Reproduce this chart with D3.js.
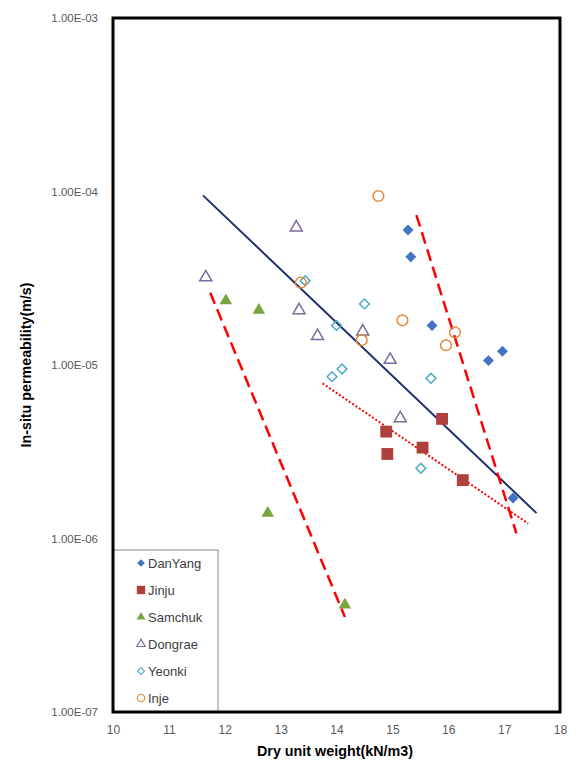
<!DOCTYPE html>
<html><head><meta charset="utf-8">
<script src="https://cdn.jsdelivr.net/npm/d3@7"></script>
<style>body{margin:0;background:#fff}</style>
</head><body>
<svg id="c" width="584" height="772"></svg>
<script>
const xTicks = [10,11,12,13,14,15,16,17,18];
const yTicks = [1e-7,1e-6,1e-5,1e-4,1e-3];
const yTickLabels = ["1.00E-07","1.00E-06","1.00E-05","1.00E-04","1.00E-03"];

const danyangX = [15.28,15.33,15.71,16.72,16.97,17.16];
const danyangY = [6.0e-5,4.2e-5,1.69e-5,1.06e-5,1.2e-5,1.71e-6];
const jinjuX = [14.89,14.91,15.54,15.89,16.26];
const jinjuY = [4.13e-6,3.07e-6,3.34e-6,4.89e-6,2.17e-6];
const samchukX = [12.02,12.61,12.77,14.15];
const samchukY = [2.35e-5,2.07e-5,1.40e-6,4.14e-7];
const dongraeX = [11.66,13.28,13.33,13.66,14.47,14.96,15.14];
const dongraeY = [3.2e-5,6.2e-5,2.07e-5,1.47e-5,1.56e-5,1.07e-5,4.93e-6];
const yeonkiX = [13.44,14.50,14.00,14.10,13.92,15.69,15.51];
const yeonkiY = [3.06e-5,2.25e-5,1.69e-5,9.48e-6,8.57e-6,8.38e-6,2.54e-6];
const injeX = [14.75,15.18,16.12,15.96,14.45,13.36];
const injeY = [9.42e-5,1.81e-5,1.54e-5,1.30e-5,1.39e-5,2.98e-5];

// trend lines: [x0,y0,x1,y1]
const trendAll = [11.61,9.5e-5,17.58,1.40e-6];
const trendSamchuk = [11.74,2.61e-5,14.15,3.53e-7];
const trendDanyang = [15.43,7.32e-5,17.22,1.07e-6];
const trendJinju = [13.75,7.84e-6,17.43,1.22e-6];

const svg = d3.select("#c");
const L=113,R=560,T=18,B=712;
const x = d3.scaleLinear().domain([10,18]).range([L,R]);
const y = d3.scaleLog().domain([1e-7,1e-3]).range([B,T]);
const FONT = "Liberation Sans, Arial, sans-serif";

const series = [
  {name:"DanYang", xs:danyangX, ys:danyangY, sym:d3.symbolSquare, rot:45, size:60, fill:"#4472C4", stroke:"none"},
  {name:"Jinju", xs:jinjuX, ys:jinjuY, sym:d3.symbolSquare, rot:0, size:140, fill:"#B0403E", stroke:"none"},
  {name:"Samchuk", xs:samchukX, ys:samchukY, sym:d3.symbolTriangle, rot:0, size:68, fill:"#77A540", stroke:"none"},
  {name:"Dongrae", xs:dongraeX, ys:dongraeY, sym:d3.symbolTriangle, rot:0, size:62, fill:"none", stroke:"#7B6A9E"},
  {name:"Yeonki", xs:yeonkiX, ys:yeonkiY, sym:d3.symbolSquare, rot:45, size:48, fill:"none", stroke:"#4BACC6"},
  {name:"Inje", xs:injeX, ys:injeY, sym:d3.symbolCircle, rot:0, size:90, fill:"none", stroke:"#E0893A"}
];

// trend lines
const lineGen = d3.line().x(d=>x(d[0])).y(d=>y(d[1]));
const trends = [
  {t:trendAll, color:"#1F3070", dash:null, w:2},
  {t:trendSamchuk, color:"#FF0000", dash:"12,6", w:2.5},
  {t:trendDanyang, color:"#FF0000", dash:"12,6", w:2.5},
  {t:trendJinju, color:"#FF0000", dash:"2,2", w:2}
];
trends.forEach(tr=>{
  svg.append("path").attr("d", lineGen([[tr.t[0],tr.t[1]],[tr.t[2],tr.t[3]]]))
    .attr("stroke",tr.color).attr("stroke-width",tr.w).attr("fill","none")
    .attr("stroke-dasharray",tr.dash);
});

// points
series.forEach(s=>{
  const sym = d3.symbol().type(s.sym).size(s.size);
  svg.append("g").selectAll("path").data(s.xs.map((v,i)=>[v,s.ys[i]])).join("path")
    .attr("d", sym)
    .attr("transform", d=>`translate(${x(d[0])},${y(d[1])}) rotate(${s.rot})`)
    .attr("fill", s.fill).attr("stroke", s.stroke).attr("stroke-width", s.stroke==="none"?0:1.5);
});

// legend
const lg = svg.append("g");
lg.append("rect").attr("x",L).attr("y",550).attr("width",105).attr("height",B-550)
  .attr("fill","#fff").attr("stroke","#888").attr("stroke-width",1);
series.forEach((s,i)=>{
  const yy = 563 + i*27;
  const sym = d3.symbol().type(s.sym).size(s.size*0.5);
  lg.append("path").attr("d",sym).attr("transform",`translate(141,${yy}) rotate(${s.rot})`)
    .attr("fill",s.fill).attr("stroke",s.stroke).attr("stroke-width",s.stroke==="none"?0:1.1);
  lg.append("text").attr("x",148).attr("y",yy).attr("dy","0.35em")
    .attr("font-family",FONT).attr("font-size",13)
    .attr("fill","#404040").text(s.name);
});

// frame
svg.append("rect").attr("x",L).attr("y",T).attr("width",R-L).attr("height",B-T)
  .attr("fill","none").attr("stroke","#000").attr("stroke-width",3);

// axes labels
const xa = d3.axisBottom(x).tickValues(xTicks).tickSize(0).tickPadding(13).tickFormat(d3.format("d"));
const gx = svg.append("g").attr("transform",`translate(0,${B})`).call(xa);
gx.select(".domain").remove();
gx.selectAll("text").attr("font-family",FONT).attr("font-size",12).attr("fill","#595959");

const ya = d3.axisLeft(y).tickValues(yTicks).tickSize(0).tickPadding(15).tickFormat((d,i)=>yTickLabels[i]);
const gy = svg.append("g").attr("transform",`translate(${L},0)`).call(ya);
gy.select(".domain").remove();
gy.selectAll("text").attr("font-family",FONT).attr("font-size",11.5).attr("fill","#595959");

svg.append("text").attr("x",335).attr("y",756).attr("text-anchor","middle")
  .attr("font-family",FONT).attr("font-weight","bold").attr("font-size",14)
  .attr("textLength",156).attr("lengthAdjust","spacingAndGlyphs")
  .attr("fill","#000").text("Dry unit weight(kN/m3)");
svg.append("text").attr("transform","translate(31,365) rotate(-90)").attr("text-anchor","middle")
  .attr("font-family",FONT).attr("font-weight","bold").attr("font-size",14)
  .attr("textLength",165).attr("lengthAdjust","spacingAndGlyphs")
  .attr("fill","#000").text("In-situ permeability(m/s)");
</script>
</body></html>
